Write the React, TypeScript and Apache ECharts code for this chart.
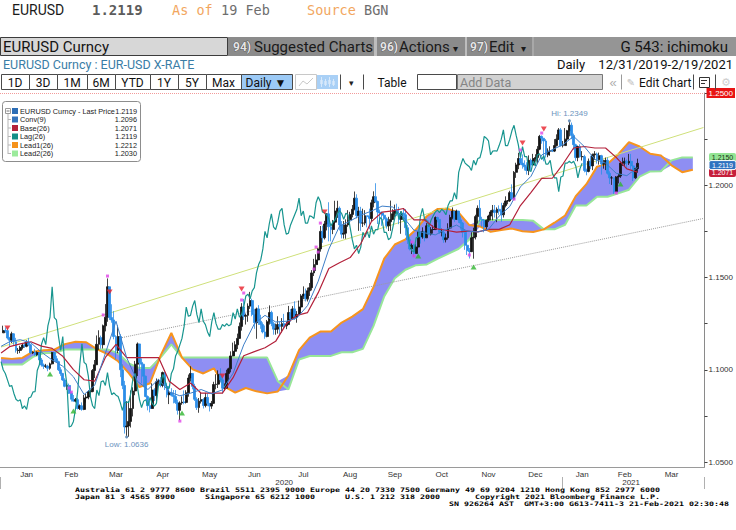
import React, { useEffect, useRef } from "react";
import * as echarts from "echarts";

// ---------- daily bars: [close, low, high]; each bar opens at the previous close ----------
const dec30Close = 1.12;
const dec19 = [[1.1213, 1.12, 1.1239]];
const jan20 = [
  [1.1212, 1.12, 1.123], [1.1172, 1.1164, 1.1228], [1.116, 1.1128, 1.1178], [1.1195, 1.1145, 1.1206], [1.1152, 1.1135, 1.1198],
  [1.1105, 1.1093, 1.1173], [1.1105, 1.1086, 1.1118], [1.1121, 1.109, 1.113], [1.1134, 1.111, 1.114], [1.1127, 1.1118, 1.115],
  [1.115, 1.1122, 1.116], [1.1136, 1.1128, 1.1173], [1.1091, 1.1085, 1.114], [1.1095, 1.1085, 1.11], [1.1082, 1.1075, 1.1114],
  [1.1093, 1.1075, 1.11], [1.1053, 1.1036, 1.1096], [1.1026, 1.1017, 1.1064], [1.1019, 1.1004, 1.1034], [1.102, 1.101, 1.1032],
  [1.1008, 1.0992, 1.1027], [1.1032, 1.1, 1.1039], [1.1093, 1.1028, 1.1097]];
const feb20 = [
  [1.106, 1.1048, 1.1096], [1.1044, 1.1038, 1.1076], [1.1, 1.0993, 1.1049], [1.098, 1.0967, 1.1014], [1.0945, 1.094, 1.0983],
  [1.091, 1.0905, 1.0954], [1.0915, 1.0891, 1.0928], [1.0873, 1.0869, 1.0925], [1.084, 1.0828, 1.0877], [1.083, 1.0828, 1.0863],
  [1.0838, 1.0823, 1.0847], [1.079, 1.0785, 1.0848], [1.0805, 1.0782, 1.0812], [1.0785, 1.0778, 1.0823], [1.0847, 1.0781, 1.0864],
  [1.0852, 1.0822, 1.0871], [1.088, 1.084, 1.089], [1.0882, 1.085, 1.0892], [1.0996, 1.0878, 1.1004], [1.1027, 1.0955, 1.1053]];
const mar20 = [
  [1.1138, 1.103, 1.1186], [1.1174, 1.1108, 1.1214], [1.1136, 1.1114, 1.1185], [1.1238, 1.1115, 1.1245], [1.1285, 1.1208, 1.1356],
  [1.145, 1.126, 1.1495], [1.1283, 1.127, 1.145], [1.127, 1.1255, 1.1355], [1.118, 1.1165, 1.1318], [1.1105, 1.1055, 1.1187],
  [1.118, 1.109, 1.124], [1.1, 1.096, 1.1193], [1.0915, 1.0895, 1.103], [1.069, 1.0654, 1.094], [1.0695, 1.0636, 1.083],
  [1.072, 1.0637, 1.083], [1.079, 1.0687, 1.0888], [1.0885, 1.0747, 1.0905], [1.103, 1.0862, 1.1048], [1.114, 1.0966, 1.1148],
  [1.104, 1.0995, 1.1128], [1.103, 1.0926, 1.1062]];
const apr20 = [
  [1.0965, 1.0905, 1.1032], [1.0855, 1.0851, 1.0968], [1.0805, 1.078, 1.0861], [1.079, 1.0769, 1.0832], [1.089, 1.0791, 1.0927],
  [1.086, 1.0831, 1.09], [1.0935, 1.0829, 1.0953], [1.094, 1.0915, 1.095], [1.0915, 1.0905, 1.096], [1.0985, 1.0905, 1.099],
  [1.091, 1.089, 1.099], [1.0865, 1.085, 1.0927], [1.0875, 1.0814, 1.0888], [1.0862, 1.0855, 1.09], [1.0855, 1.0818, 1.089],
  [1.0822, 1.0815, 1.089], [1.078, 1.0757, 1.0838], [1.082, 1.0727, 1.0829], [1.0825, 1.081, 1.0856], [1.0823, 1.0813, 1.0888],
  [1.0875, 1.0817, 1.0889], [1.0955, 1.0854, 1.0974]];
const may20 = [
  [1.098, 1.0936, 1.1019], [1.091, 1.0894, 1.0973], [1.084, 1.0831, 1.0924], [1.0795, 1.0782, 1.0851], [1.083, 1.0767, 1.0847],
  [1.0838, 1.0817, 1.0874], [1.0806, 1.079, 1.0846], [1.085, 1.0796, 1.0875], [1.0818, 1.0803, 1.087], [1.0803, 1.0774, 1.0819],
  [1.0818, 1.0788, 1.0831], [1.092, 1.0815, 1.0935], [1.0922, 1.0894, 1.0976], [1.0975, 1.0901, 1.0997], [1.0945, 1.0931, 1.1008],
  [1.09, 1.0871, 1.0958], [1.09, 1.0885, 1.0926], [1.098, 1.0899, 1.1], [1.1005, 1.0938, 1.1011], [1.1075, 1.0986, 1.11],
  [1.11, 1.1073, 1.1147]];
const jun20 = [
  [1.1135, 1.1076, 1.1155], [1.117, 1.1112, 1.1196], [1.1235, 1.117, 1.1256], [1.134, 1.1212, 1.1361], [1.129, 1.127, 1.1384],
  [1.1295, 1.1245, 1.1305], [1.1345, 1.126, 1.136], [1.1375, 1.133, 1.1422], [1.13, 1.129, 1.1385], [1.1255, 1.1222, 1.133],
  [1.133, 1.1168, 1.1337], [1.1263, 1.1243, 1.135], [1.1245, 1.1222, 1.1298], [1.1205, 1.1197, 1.1257], [1.118, 1.1168, 1.124],
  [1.126, 1.1176, 1.127], [1.131, 1.1245, 1.1349], [1.125, 1.1236, 1.132], [1.122, 1.119, 1.126], [1.122, 1.119, 1.125],
  [1.1245, 1.1196, 1.129], [1.1235, 1.119, 1.126]];
const jul20 = [
  [1.125, 1.1202, 1.128], [1.1238, 1.1222, 1.1303], [1.1245, 1.122, 1.1262], [1.131, 1.1244, 1.1346], [1.1275, 1.126, 1.1329],
  [1.133, 1.127, 1.1345], [1.1285, 1.127, 1.1371], [1.13, 1.1255, 1.1318], [1.134, 1.13, 1.1375], [1.14, 1.1322, 1.141],
  [1.141, 1.1383, 1.1452], [1.1385, 1.137, 1.144], [1.1428, 1.137, 1.1445], [1.1445, 1.14, 1.147], [1.1525, 1.143, 1.154],
  [1.157, 1.1508, 1.1601], [1.1595, 1.1535, 1.1626], [1.1655, 1.157, 1.166], [1.175, 1.164, 1.1779], [1.1715, 1.1688, 1.1781],
  [1.179, 1.1706, 1.1807], [1.1845, 1.1755, 1.1847], [1.1775, 1.1696, 1.1908]];
const aug20 = [
  [1.176, 1.1696, 1.1788], [1.18, 1.1735, 1.1812], [1.186, 1.179, 1.1916], [1.1875, 1.1823, 1.1916], [1.1785, 1.1755, 1.1885],
  [1.1735, 1.1712, 1.1806], [1.174, 1.1711, 1.1806], [1.1785, 1.171, 1.1815], [1.1813, 1.1775, 1.1865], [1.1842, 1.179, 1.1856],
  [1.187, 1.1826, 1.1893], [1.193, 1.1864, 1.1966], [1.1835, 1.182, 1.1951], [1.186, 1.1753, 1.1883], [1.1795, 1.1753, 1.1883],
  [1.1795, 1.1774, 1.1873], [1.1835, 1.1783, 1.1865], [1.183, 1.1772, 1.1835], [1.182, 1.1762, 1.1873], [1.1905, 1.1805, 1.1922],
  [1.1938, 1.188, 1.1967]];
const sep20 = [
  [1.1912, 1.1905, 1.2011], [1.1855, 1.179, 1.1917], [1.185, 1.1789, 1.1868], [1.1838, 1.178, 1.1858], [1.1818, 1.181, 1.1848],
  [1.178, 1.1765, 1.1826], [1.1802, 1.1752, 1.1829], [1.1814, 1.1753, 1.1917], [1.1845, 1.1812, 1.187], [1.1863, 1.1825, 1.1895],
  [1.1847, 1.1833, 1.19], [1.1815, 1.1789, 1.1883], [1.1848, 1.1737, 1.1858], [1.184, 1.1812, 1.1872], [1.177, 1.1728, 1.1871],
  [1.1705, 1.1682, 1.1784], [1.1655, 1.1647, 1.1721], [1.1675, 1.1627, 1.1688], [1.163, 1.1612, 1.1683], [1.1665, 1.163, 1.1681],
  [1.1745, 1.1653, 1.175], [1.172, 1.1684, 1.175]];
const oct20 = [
  [1.175, 1.171, 1.1772], [1.1715, 1.1696, 1.175], [1.178, 1.1715, 1.1795], [1.1735, 1.173, 1.1809], [1.176, 1.1728, 1.1773],
  [1.176, 1.1738, 1.1782], [1.1825, 1.1757, 1.1831], [1.1815, 1.1799, 1.183], [1.1745, 1.1737, 1.1815], [1.1745, 1.1723, 1.1765],
  [1.1705, 1.1688, 1.1752], [1.1715, 1.169, 1.1738], [1.1768, 1.1705, 1.1794], [1.1825, 1.1762, 1.184], [1.186, 1.1815, 1.188],
  [1.1815, 1.18, 1.1858], [1.186, 1.1813, 1.1868], [1.1812, 1.1796, 1.1861], [1.1795, 1.176, 1.1835], [1.1745, 1.1717, 1.1801],
  [1.1675, 1.165, 1.1762], [1.1645, 1.1622, 1.1706]];
const nov20 = [
  [1.164, 1.1603, 1.166], [1.1715, 1.1638, 1.1745], [1.172, 1.1602, 1.177], [1.183, 1.1706, 1.184], [1.1875, 1.1792, 1.1891],
  [1.1815, 1.1803, 1.192], [1.181, 1.1775, 1.1829], [1.1775, 1.1745, 1.1815], [1.181, 1.1756, 1.1814], [1.1833, 1.18, 1.184],
  [1.1855, 1.181, 1.1865], [1.1865, 1.181, 1.1893], [1.1852, 1.1825, 1.1893], [1.187, 1.18, 1.188], [1.186, 1.184, 1.1891],
  [1.184, 1.1803, 1.1905], [1.189, 1.1825, 1.1905], [1.1915, 1.188, 1.194], [1.1915, 1.1897, 1.192], [1.196, 1.191, 1.197],
  [1.1925, 1.192, 1.2005]];
const dec20 = [
  [1.207, 1.1925, 1.2077], [1.211, 1.204, 1.2122], [1.2145, 1.2087, 1.2176], [1.212, 1.211, 1.2178], [1.211, 1.209, 1.2167],
  [1.21, 1.208, 1.2135], [1.208, 1.2058, 1.2125], [1.2135, 1.2055, 1.2162], [1.211, 1.208, 1.2145], [1.2145, 1.2113, 1.217],
  [1.215, 1.2128, 1.2168], [1.2195, 1.212, 1.2212], [1.2265, 1.219, 1.2273], [1.2255, 1.2225, 1.227], [1.224, 1.213, 1.225],
  [1.2165, 1.215, 1.225], [1.2185, 1.2152, 1.22], [1.2187, 1.216, 1.2211], [1.2185, 1.218, 1.2195], [1.2215, 1.218, 1.225],
  [1.225, 1.221, 1.2276], [1.23, 1.2245, 1.231], [1.2215, 1.221, 1.231]];
const jan21 = [
  [1.2215, 1.2205, 1.224], [1.225, 1.222, 1.231], [1.2295, 1.224, 1.23], [1.2325, 1.2265, 1.2349], [1.227, 1.225, 1.234],
  [1.222, 1.2192, 1.228], [1.215, 1.2132, 1.2225], [1.221, 1.213, 1.2215], [1.2155, 1.215, 1.2222], [1.2155, 1.2134, 1.2185],
  [1.208, 1.207, 1.2165], [1.2075, 1.2054, 1.209], [1.213, 1.207, 1.2145], [1.2105, 1.2087, 1.216], [1.2165, 1.2082, 1.2172],
  [1.217, 1.2138, 1.2185], [1.214, 1.2117, 1.2177], [1.216, 1.2112, 1.2177], [1.2115, 1.2058, 1.2165], [1.2115, 1.209, 1.2138],
  [1.2135, 1.2082, 1.215]];
const feb21 = [
  [1.2065, 1.2058, 1.2151], [1.204, 1.2007, 1.2076], [1.204, 1.2002, 1.205], [1.1965, 1.1952, 1.204], [1.2045, 1.1965, 1.205],
  [1.205, 1.201, 1.2062], [1.212, 1.204, 1.213], [1.212, 1.2105, 1.215], [1.213, 1.2105, 1.215], [1.212, 1.209, 1.214],
  [1.213, 1.211, 1.217], [1.2105, 1.2087, 1.217], [1.204, 1.2023, 1.211], [1.209, 1.2035, 1.2095], [1.2119, 1.2068, 1.2144]];

// ---------- Ichimoku lines read at weekly (Friday) points ----------
// Conversion (9) and Base (26): Dec 30 2019, then every Friday from Jan 3 2020 to Feb 19 2021
const convLine = [
  1.1127, 1.1152, 1.1163, 1.1146, 1.1095, 1.1053, 1.1019, 1.0962, 1.0866, 1.0916,
  1.1089, 1.1263, 1.1066, 1.0938, 1.0893, 1.0949, 1.088, 1.0859, 1.0873, 1.0893,
  1.087, 1.0891, 1.0981, 1.1135, 1.1249, 1.1295, 1.1259, 1.1263, 1.1281, 1.1348,
  1.148, 1.1654, 1.1778, 1.1806, 1.1838, 1.186, 1.1887, 1.1882, 1.1827, 1.1756,
  1.1742, 1.1731, 1.176, 1.1784, 1.1751, 1.1747, 1.1761, 1.1833, 1.1885, 1.1991,
  1.2049, 1.2164, 1.2193, 1.222, 1.2265, 1.221, 1.214, 1.212, 1.2065, 1.2052, 1.2096];
const baseLine = [
  1.1091, 1.1125, 1.114, 1.1152, 1.1128, 1.1116, 1.1073, 1.1001, 1.0946, 1.0938,
  1.1067, 1.1137, 1.1066, 1.1066, 1.1066, 1.1066, 1.0938, 1.0893, 1.0928, 1.0873,
  1.0873, 1.0873, 1.0957, 1.1076, 1.1098, 1.1119, 1.1154, 1.1249, 1.1295, 1.131,
  1.1418, 1.1549, 1.158, 1.1608, 1.1683, 1.1803, 1.1854, 1.1861, 1.1874, 1.1812,
  1.1812, 1.1765, 1.1756, 1.1746, 1.1751, 1.1747, 1.1761, 1.1761, 1.1786, 1.189,
  1.1962, 1.2037, 1.2038, 1.2115, 1.2202, 1.221, 1.2202, 1.2202, 1.2151, 1.2089, 1.2071];
// Leading spans, given per source Friday (Nov 22 2019 .. Feb 19 2021), drawn 26 sessions ahead
const lead1Line = [
  1.1064, 1.1059, 1.1064, 1.1098, 1.1106, 1.1109, 1.1139, 1.1152, 1.1149, 1.1112,
  1.1085, 1.1046, 1.0982, 1.0906, 1.0927, 1.1078, 1.12, 1.1066, 1.1002, 1.098,
  1.1008, 1.0909, 1.0876, 1.0901, 1.0883, 1.0872, 1.0882, 1.0969, 1.1106, 1.1174,
  1.1207, 1.1207, 1.1256, 1.1288, 1.1329, 1.1449, 1.1602, 1.1679, 1.1707, 1.1761,
  1.1832, 1.1871, 1.1872, 1.1851, 1.1784, 1.1777, 1.1748, 1.1758, 1.1765, 1.1751,
  1.1747, 1.1761, 1.1797, 1.1836, 1.1941, 1.2006, 1.2101, 1.2116, 1.2168, 1.2234,
  1.221, 1.2171, 1.2161, 1.2108, 1.2071, 1.2084];
const lead2Line = [
  1.1029, 1.1029, 1.1029, 1.107, 1.1091, 1.1091, 1.111, 1.111, 1.111, 1.111,
  1.111, 1.109, 1.1034, 1.1009, 1.1009, 1.1067, 1.1137, 1.1066, 1.1066, 1.1066,
  1.1066, 1.1066, 1.1066, 1.1066, 1.1066, 1.1066, 1.0938, 1.0893, 1.1056, 1.1075,
  1.1075, 1.1075, 1.1095, 1.1095, 1.1113, 1.1238, 1.1397, 1.1496, 1.1542, 1.1567,
  1.1571, 1.1601, 1.1628, 1.1656, 1.1706, 1.1812, 1.1812, 1.1812, 1.1812, 1.1812,
  1.1807, 1.1761, 1.1761, 1.1786, 1.189, 1.189, 1.1938, 1.1938, 1.1956, 1.1976,
  1.2047, 1.2075, 1.2076, 1.2135, 1.2151, 1.2151];

// ---------- annotations ----------
const downMarks = [["2020-01-02", 1.1226], ["2020-03-10", 1.1421], ["2020-05-22", 1.0966], ["2020-06-04", 1.1438],
  ["2020-07-29", 1.1855], ["2020-12-07", 1.2229], ["2020-12-21", 1.2305]];
const upMarks = [["2020-01-30", 1.0977], ["2020-02-14", 1.0776], ["2020-04-27", 1.0766], ["2020-09-29", 1.1617],
  ["2020-11-04", 1.1557], ["2021-02-09", 1.2007]];
const dotMarks = [["2020-03-09", 1.1508], ["2020-03-05", 1.1297], ["2020-02-12", 1.0901], ["2020-02-13", 1.0879],
  ["2020-04-24", 1.0722], ["2020-06-04", 1.1378], ["2020-06-05", 1.1416], ["2020-07-27", 1.1795], ["2020-07-23", 1.1665],
  ["2020-07-24", 1.1638], ["2020-07-22", 1.1546], ["2020-09-24", 1.1692], ["2020-09-25", 1.1617], ["2020-11-02", 1.1622],
  ["2020-12-18", 1.2283], ["2020-12-04", 1.2191], ["2020-12-01", 1.1925], ["2021-02-05", 1.1958]];
const trendUp = [["2019-12-30", 1.1123], ["2021-04-05", 1.2313]];
const trendDot = [["2020-03-16", 1.117], ["2021-04-05", 1.182]];
const yTickValues = [1.05, 1.075, 1.1, 1.125, 1.15, 1.175, 1.2, 1.225, 1.25];
const yLabelValues = [1.05, 1.1, 1.15, 1.2];
const monthNames = ["Jan", "Feb", "Mar", "Apr", "May", "Jun", "Jul", "Aug", "Sep", "Oct", "Nov", "Dec"];
const legendRows = [
  ["EURUSD Curncy - Last Price", "1.2119", "#2c6db5"],
  ["Conv(9)", "1.2096", "#3473bb"],
  ["Base(26)", "1.2071", "#b3213a"],
  ["Lag(26)", "1.2119", "#128f88"],
  ["Lead1(26)", "1.2212", "#f5921b"],
  ["Lead2(26)", "1.2030", "#9ceb9c"],
];
// right-edge last-value tags: [value, text, background, text colour]
const valueTags = [
  [1.215, "1.2150", "#93e493", "#173317"],
  [1.2071, "1.2071", "#c61f3b", "#ffffff"],
  [1.2119, "1.2119", "#2f72c0", "#ffffff"],
];
const footer1 = "Australia 61 2 9777 8600 Brazil 5511 2395 9000 Europe 44 20 7330 7500 Germany 49 69 9204 1210 Hong Kong 852 2977 6000";
const footer2 = "Japan 81 3 4565 8900      Singapore 65 6212 1000      U.S. 1 212 318 2000       Copyright 2021 Bloomberg Finance L.P.";
const footer3 = "SN 926264 AST  GMT+3:00 G613-7411-3 21-Feb-2021 02:30:48";

// ---------- helpers ----------
const DAY = 86400000;
const ymd = (t: number) => new Date(t).toISOString().slice(0, 10);
function weekdays(a: number, b: number): string[] {
  const out: string[] = [];
  for (let t = a; t <= b; t += DAY) {
    const w = new Date(t).getUTCDay();
    if (w !== 0 && w !== 6) out.push(ymd(t));
  }
  return out;
}
const allDays = weekdays(Date.UTC(2019, 10, 1), Date.UTC(2021, 5, 30));
const dayIdx = new Map<string, number>();
allDays.forEach((d, i) => dayIdx.set(d, i));
const axisDays = weekdays(Date.UTC(2019, 11, 30), Date.UTC(2021, 3, 5));
const axisSet = new Set(axisDays);

const monthRows: any[] = [
  [2020, 0, jan20], [2020, 1, feb20], [2020, 2, mar20], [2020, 3, apr20], [2020, 4, may20], [2020, 5, jun20],
  [2020, 6, jul20], [2020, 7, aug20], [2020, 8, sep20], [2020, 9, oct20], [2020, 10, nov20], [2020, 11, dec20],
  [2021, 0, jan21], [2021, 1, feb21],
];

function buildBars() {
  const bars: any[] = [];
  let prev = dec30Close;
  const push = (d: string, r: number[]) => {
    const [c, l, h] = r;
    bars.push([d, prev, c, Math.min(l, prev, c), Math.max(h, prev, c)]);
    prev = c;
  };
  push("2019-12-31", dec19[0]);
  for (const [y, m, rows] of monthRows) {
    const key = `${y}-${String(m + 1).padStart(2, "0")}`;
    const days = allDays.filter((d) => d.startsWith(key));
    rows.forEach((r: number[], i: number) => push(days[i], r));
  }
  return bars;
}

function fridays(startUTC: number, n: number) {
  return Array.from({ length: n }, (_, k) => ymd(startUTC + k * 7 * DAY));
}

const SM = "'Liberation Sans', Arial, sans-serif";

function buildOption() {
  const bars = buildBars();
  const lag = bars
    .map((b) => [allDays[(dayIdx.get(b[0]) as number) - 26], b[2]])
    .filter((p) => axisSet.has(p[0] as string));
  const cbDates = ["2019-12-30", ...fridays(Date.UTC(2020, 0, 3), convLine.length - 1)];
  const conv = convLine.map((v, i) => [cbDates[i], v]);
  const base = baseLine.map((v, i) => [cbDates[i], v]);
  const leadSrc = fridays(Date.UTC(2019, 10, 22), lead1Line.length);
  const leadDates = leadSrc.map((d) => allDays[(dayIdx.get(d) as number) + 26]);
  const lead1 = lead1Line.map((v, i) => [leadDates[i], v]);
  const lead2 = lead2Line.map((v, i) => [leadDates[i], v]);
  const cloudLow = lead1Line.map((v, i) => [leadDates[i], Math.min(v, lead2Line[i])]);
  const cloudBand = lead1Line.map((v, i) => [leadDates[i], Math.abs(v - lead2Line[i])]);

  const monthStart = new Set<string>();
  axisDays.forEach((d, i) => {
    if (i > 0 && d.slice(0, 7) !== axisDays[i - 1].slice(0, 7)) monthStart.add(d);
  });
  const groups = new Map<string, string[]>();
  axisDays.forEach((d) => {
    const k = d.slice(0, 7);
    if (!groups.has(k)) groups.set(k, []);
    groups.get(k)!.push(d);
  });
  const monthLabel = new Set<string>();
  groups.forEach((days) => {
    if (days.length >= 15) monthLabel.add(days[Math.floor((days.length - 1) / 2) - 1]);
  });
  const yearLabel = new Map<string, string>([["2020-07-02", "2020"], ["2021-02-16", "2021"]]);

  const F = "Roboto, 'Liberation Sans', sans-serif";
  const MONO = "'DejaVu Sans Mono', 'Liberation Mono', monospace";
  let gid = 0;
  const T = (x: number, y: number, text: string, font: string, fill: string, align = "left", extra: any = {}, el: any = {}) => ({
    type: "text", id: "t" + gid++, silent: true, z: 100, x, y, ...el,
    style: { text, font, fill, textAlign: align, align, textVerticalAlign: "middle", verticalAlign: "middle", ...extra },
  });
  const R = (x: number, y: number, w: number, h: number, fill: string, stroke = "none", lw = 1, r = 0) => ({
    type: "rect", id: "r" + gid++, silent: true, z: 99, shape: { x, y, width: w, height: h, r },
    style: { fill, stroke, lineWidth: lw },
  });
  const L = (x1: number, y1: number, x2: number, y2: number, stroke: string, lw = 1) => ({
    type: "line", id: "l" + gid++, silent: true, z: 100, shape: { x1, y1, x2, y2 }, style: { stroke, lineWidth: lw },
  });

  const g: any[] = [];
  // top header
  g.push(T(12, 10, "EURUSD", `14px ${F}`, "#1a1a1a"));
  g.push(T(92, 10, "1.2119", `bold 14px ${MONO}`, "#5c5c5c"));
  g.push(T(172, 10, "As of", `13.5px ${MONO}`, "#f2a65e"));
  g.push(T(221, 10, "19 Feb", `13.5px ${MONO}`, "#6e6e6e"));
  g.push(T(307, 10, "Source", `13.5px ${MONO}`, "#f2a65e"));
  g.push(T(364, 10, "BGN", `13.5px ${MONO}`, "#6e6e6e"));
  // command bar
  g.push(R(228, 37, 508, 19, "#8b8b8b"));
  g.push(R(534, 37, 202, 19, "#959595"));
  g.push(R(374, 37, 3, 19, "#bdbdbd"));
  g.push(R(465, 37, 2, 19, "#bdbdbd"));
  g.push(R(532, 37, 2, 19, "#a8a8a8"));
  g.push(R(0.5, 37.5, 227, 18, "#d7d7d7", "#3c3c3c", 1));
  g.push(T(3, 47, "EURUSD Curncy", `15px ${F}`, "#141414"));
  const numStyle = { stroke: "#3a3a3a", lineWidth: 0.7 };
  g.push(T(233, 47, "94)", `bold 12px ${F}`, "#e4e4e4", "left", numStyle));
  g.push(T(254, 47, "Suggested Charts", `15px ${F}`, "#1a1a1a"));
  g.push(T(380, 47, "96)", `bold 12px ${F}`, "#e4e4e4", "left", numStyle));
  g.push(T(399, 47, "Actions", `15px ${F}`, "#1a1a1a"));
  g.push(T(453, 48, "▾", `10px ${SM}`, "#1a1a1a"));
  g.push(T(470, 47, "97)", `bold 12px ${F}`, "#e4e4e4", "left", numStyle));
  g.push(T(489, 47, "Edit", `15px ${F}`, "#1a1a1a"));
  g.push(T(521, 48, "▾", `10px ${SM}`, "#1a1a1a"));
  g.push(T(728, 47, "G 543: ichimoku", `15px ${F}`, "#141414", "right"));
  // title row
  g.push(T(3, 64.5, "EURUSD Curncy : EUR-USD X-RATE", `12.5px ${F}`, "#3a7da6"));
  g.push(T(557, 64.5, "Daily", `13px ${F}`, "#111"));
  g.push(T(733, 64.5, "12/31/2019-2/19/2021", `13px ${F}`, "#111", "right"));
  // toolbar
  const btns: any[] = [[1, 29, "1D"], [29, 57, "3D"], [57, 87, "1M"], [87, 115, "6M"], [115, 150, "YTD"], [150, 178, "1Y"],
    [178, 206, "5Y"], [206, 241, "Max"]];
  btns.forEach(([a, b, s]) => {
    g.push(R(a + 0.5, 74.5, b - a, 15, "#ffffff", "#4a4a4a", 1));
    g.push(T((a + b) / 2, 82.5, s, `12px ${F}`, "#111", "center"));
  });
  g.push(R(241.5, 74.5, 51, 15, "#9ccaf6", "#4a4a4a", 1));
  g.push(T(266, 82.5, "Daily ▼", `12px ${F}`, "#111", "center"));
  g.push(R(295.5, 74.5, 21, 15, "#ffffff", "#c8c8c8", 1));
  g.push({ type: "polyline", id: "p" + gid++, silent: true, z: 100, shape: { points: [[299, 86], [303, 81], [307, 84], [313, 78]] },
    style: { stroke: "#c9c9c9", lineWidth: 1, fill: "none" } });
  g.push(R(317, 75, 21, 14, "#a9d0f6"));
  [321, 325, 329, 333].forEach((x, i) => {
    g.push(L(x + 0.5, 77 + (i % 2) * 2, x + 0.5, 87 - (i % 2), "#d8e9fb", 1));
    g.push(R(x - 0.5, 80 + (i % 2), 2, 4, "#e9f3fd"));
  });
  g.push(L(340.5, 74.5, 340.5, 89.5, "#4a4a4a", 1));
  g.push(T(351, 82.5, "▾", `9px ${SM}`, "#222", "center"));
  g.push(L(363.5, 74.5, 363.5, 89.5, "#4a4a4a", 1));
  g.push(T(392, 82.5, "Table", `12px ${F}`, "#111", "center"));
  g.push(R(417.5, 74.5, 39, 15, "#ffffff", "#4a4a4a", 1));
  g.push(R(457.5, 74.5, 145, 15, "#d2d2d2", "#777", 1));
  g.push(T(460, 82.5, "Add Data", `12.5px ${F}`, "#858585"));
  g.push(T(613, 82.5, "«", `13px ${SM}`, "#b0b0b0", "center"));
  g.push(L(621.5, 74.5, 621.5, 89.5, "#9a9a9a", 1));
  g.push(T(631, 82.5, "✎", `10px 'DejaVu Sans'`, "#c0c0c0", "center"));
  g.push(T(639, 82.5, "Edit Chart", `12px ${F}`, "#111"));
  g.push(L(693.5, 74.5, 693.5, 89.5, "#4a4a4a", 1));
  g.push(R(699.5, 77.5, 10, 10, "#ffffff", "#333", 1));
  g.push(L(701, 80.5, 707, 80.5, "#333", 1));
  g.push(L(701, 83.5, 705, 83.5, "#333", 1));
  g.push(L(715.5, 74.5, 715.5, 89.5, "#4a4a4a", 1));
  g.push(T(726, 82.5, "⚙", `11px 'DejaVu Sans'`, "#cfcfcf", "center"));
  // legend box
  g.push(R(2.5, 101.5, 138, 60, "rgba(255,255,255,0.92)", "#8d8d8d", 1, 3));
  g.push(R(5.5, 108.5, 5, 5, "#ffffff", "#9a9a9a", 1));
  g.push(L(6.5, 111, 9.5, 111, "#777", 1));
  g.push(L(8, 114, 8, 154, "#b5b5b5", 1));
  legendRows.forEach(([name, val, color], i) => {
    const y = 111 + i * 8.5;
    if (i > 0) g.push(L(8, y, 11, y, "#b5b5b5", 1));
    g.push(R(12, y - 3, 6, 6, color as string));
    g.push(T(20, y, name as string, `7.3px ${SM}`, "#222"));
    g.push(T(137, y, val as string, `7.3px ${SM}`, "#222", "right"));
  });
  // footer (condensed bold monospace, stretched horizontally)
  const fs = { scaleX: 1.34 };
  g.push(T(75, 490, footer1, `bold 6.2px ${MONO}`, "#000", "left", {}, fs));
  g.push(T(75, 497, footer2, `bold 6.2px ${MONO}`, "#000", "left", {}, fs));
  g.push(T(729, 504, footer3, `bold 6.2px ${MONO}`, "#000", "right", {}, fs));

  const lineS = (name: string, data: any[], color: string, width: number, z: number, type = "solid") => ({
    type: "line", name, data, symbol: "none", showSymbol: false, silent: true, z,
    lineStyle: { color, width, type }, emphasis: { disabled: true },
  });

  return {
    animation: false,
    backgroundColor: "#ffffff",
    grid: { left: 0, right: 29, top: 93, bottom: 63, containLabel: false },
    xAxis: [
      {
        type: "category", data: axisDays, boundaryGap: true,
        axisLine: { lineStyle: { color: "#9a9a9a", width: 1 } },
        axisTick: { interval: (_i: number, v: string) => monthStart.has(v), length: 3, lineStyle: { color: "#666" } },
        axisLabel: {
          interval: (_i: number, v: string) => monthLabel.has(v),
          formatter: (v: string) => monthNames[Number(v.slice(5, 7)) - 1],
          fontSize: 8, color: "#333", margin: 3, fontFamily: SM,
        },
        splitLine: { show: false },
      },
      {
        type: "category", data: axisDays, boundaryGap: true, position: "bottom", offset: 10,
        axisLine: { show: false },
        axisTick: { show: true, interval: (i: number, v: string) => v === "2021-01-01" || i === 0, length: 12, lineStyle: { color: "#b0b0b0" } },
        axisLabel: {
          interval: (_i: number, v: string) => yearLabel.has(v),
          formatter: (v: string) => yearLabel.get(v) || "",
          fontSize: 8, color: "#333", margin: 1, fontFamily: SM,
        },
        splitLine: { show: false },
      },
    ],
    yAxis: {
      type: "value", position: "right", min: 1.0473, max: 1.25, scale: true,
      axisLine: { show: true, lineStyle: { color: "#8a8a8a" } },
      axisTick: { show: true, customValues: yTickValues, length: 3, lineStyle: { color: "#444" } },
      axisLabel: { customValues: yLabelValues, formatter: (v: number) => v.toFixed(4), fontSize: 8, color: "#333", margin: 4, fontFamily: SM },
      splitLine: { show: false },
    },
    graphic: g,
    series: [
      { type: "line", name: "cloudLow", stack: "cloud", data: cloudLow, symbol: "none", silent: true, z: 1, lineStyle: { width: 0, opacity: 0 } },
      { type: "line", name: "cloudBand", stack: "cloud", data: cloudBand, symbol: "none", silent: true, z: 1, lineStyle: { width: 0, opacity: 0 },
        areaStyle: { color: "#8e8ef3", opacity: 1 } },
      lineS("Lead2(26)", lead2, "#98e698", 2, 2),
      lineS("Lead1(26)", lead1, "#f7941d", 2, 2),
      lineS("trend", trendUp, "#cfe07a", 1, 3),
      lineS("trend2", trendDot, "#9a9a9a", 1, 3, "dotted"),
      {
        type: "candlestick", name: "EURUSD Curncy", data: bars, encode: { x: 0, y: [1, 2, 3, 4] }, barWidth: 2.4, z: 4, silent: true,
        itemStyle: { color: "#141414", color0: "#2b8de8", borderColor: "#141414", borderColor0: "#2b8de8", borderWidth: 0.8 },
        markLine: {
          silent: true, symbol: "none", data: [{ yAxis: 1.25 }],
          lineStyle: { color: "#f29a9a", type: "dotted", width: 1 },
          label: { show: true, position: "end", formatter: "1.2500", color: "#fff", backgroundColor: "#e81414", fontSize: 8, padding: [1, 2], distance: 2, fontFamily: SM },
        },
        markPoint: {
          silent: true, symbol: "circle", symbolSize: 3, itemStyle: { color: "#6b93bd" },
          label: { show: true, fontSize: 8, color: "#6b93bd", fontFamily: SM },
          data: [
            { type: "max", valueDim: "highest", label: { position: "top", distance: 2, formatter: (p: any) => "Hi: " + Number(p.value).toFixed(4) } },
            { type: "min", valueDim: "lowest", label: { position: "bottom", distance: 2, formatter: (p: any) => "Low: " + Number(p.value).toFixed(4) } },
          ],
        },
      },
      lineS("Lag(26)", lag, "#17958f", 1.2, 5),
      lineS("Base(26)", base, "#b3213a", 1.2, 5),
      lineS("Conv(9)", conv, "#3d7ec7", 1, 5),
      { type: "scatter", data: downMarks, symbol: "triangle", symbolRotate: 180, symbolSize: [6, 5], itemStyle: { color: "#e8202a" }, z: 6, silent: true },
      { type: "scatter", data: upMarks, symbol: "triangle", symbolSize: [6, 5], itemStyle: { color: "#2fb52f" }, z: 6, silent: true },
      { type: "scatter", data: dotMarks, symbol: "rect", symbolSize: 3, itemStyle: { color: "#e044e6" }, z: 6, silent: true },
    ],
  };
}

export default function App() {
  const ref = useRef<HTMLDivElement>(null);
  useEffect(() => {
    if (!ref.current) return;
    const chart = echarts.init(ref.current, undefined, { renderer: "svg", width: 736, height: 530 });
    chart.setOption(buildOption() as any);
    // place the last-value tags at their axis positions, nudged apart so they do not collide
    const placed = valueTags
      .map(([v, text, bg, fg]) => ({ y: chart.convertToPixel({ yAxisIndex: 0 }, v as number) as number, text, bg, fg }))
      .sort((a, b) => a.y - b.y);
    for (let i = 1; i < placed.length; i++) {
      if (placed[i].y - placed[i - 1].y < 7.5) placed[i].y = placed[i - 1].y + 7.5;
    }
    const order = ["1.2150", "1.2071", "1.2119"];
    const tags: any[] = [];
    order.forEach((t, k) => {
      const p = placed.find((q) => q.text === t)!;
      const top = k === 2;
      tags.push({ type: "rect", id: "tagr" + k, silent: true, z: 110 + k * 2, shape: { x: 709, y: p.y - 4.5, width: 27, height: 9, r: 2 },
        style: { fill: p.bg, stroke: top ? "#ffffff" : "none", lineWidth: 1 } });
      tags.push({ type: "text", id: "tagt" + k, silent: true, z: 111 + k * 2, x: 722.5, y: p.y,
        style: { text: p.text, fill: p.fg, font: `7px ${SM}`, textAlign: "center", align: "center", textVerticalAlign: "middle", verticalAlign: "middle" } });
    });
    chart.setOption({ graphic: tags } as any);
    return () => chart.dispose();
  }, []);
  return <div ref={ref} style={{ position: "absolute", left: 0, top: 0, width: 736, height: 530, background: "#fff" }} />;
}
